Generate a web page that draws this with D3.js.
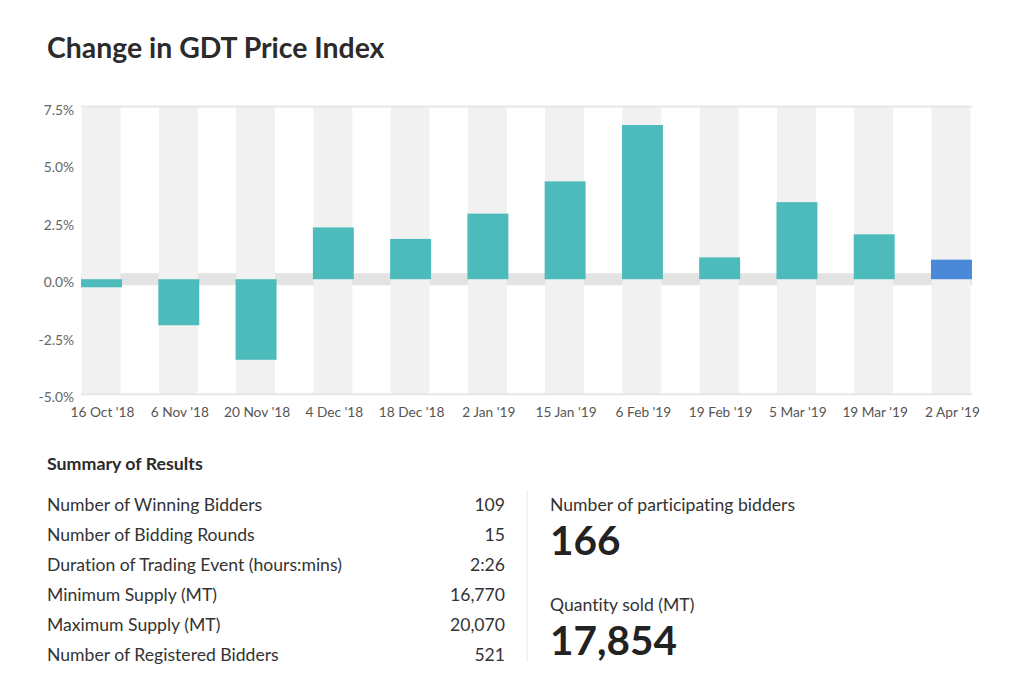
<!DOCTYPE html>
<html>
<head>
<meta charset="utf-8">
<script src="https://cdn.jsdelivr.net/npm/d3@7/dist/d3.min.js"></script>
<style>
  html, body { margin: 0; padding: 0; background: #fff; }
  svg { display: block; font-family: Lato, "Open Sans", sans-serif; font-variant-ligatures: none; font-feature-settings: "liga" 0, "dlig" 0; }
</style>
</head>
<body>
<svg id="chart" width="1024" height="676"></svg>
<script>
const categories = ["16 Oct '18", "6 Nov '18", "20 Nov '18", "4 Dec '18", "18 Dec '18", "2 Jan '19",
                    "15 Jan '19", "6 Feb '19", "19 Feb '19", "5 Mar '19", "19 Mar '19", "2 Apr '19"];
const changes = [-0.35, -2.0, -3.5, 2.25, 1.75, 2.85, 4.25, 6.7, 0.95, 3.35, 1.95, 0.85];
const yTicks = [7.5, 5.0, 2.5, 0.0, -2.5, -5.0];
const summaryLabels = ["Number of Winning Bidders", "Number of Bidding Rounds", "Duration of Trading Event (hours:mins)",
                       "Minimum Supply (MT)", "Maximum Supply (MT)", "Number of Registered Bidders"];
const summaryValues = ["109", "15", "2:26", "16,770", "20,070", "521"];
const highlights = [
  { label: "Number of participating bidders", value: "166" },
  { label: "Quantity sold (MT)", value: "17,854" }
];

const svg = d3.select("#chart");

// Title
svg.append("text").attr("x", 47).attr("y", 58)
  .attr("font-size", 28.4).attr("font-weight", 700).attr("fill", "#2b2b2b")
  .text("Change in GDT Price Index");

const x = d3.scaleBand().domain(categories).range([62.9, 990.1])
  .paddingInner(0.47).paddingOuter(0.235);
const y = d3.scaleLinear().domain([-5, 7.5]).range([394.3, 106.6]);

const plotL = x(categories[0]);
const plotR = x(categories[categories.length - 1]) + x.bandwidth();

const g = svg.append("g");

// zero band
g.append("rect").attr("x", plotL).attr("width", plotR - plotL)
  .attr("y", y(0) - 6).attr("height", 12).attr("fill", "#e3e3e3");

// column backgrounds
g.selectAll("rect.col").data(categories).join("rect").attr("class", "col")
  .attr("x", d => x(d) + 0.5).attr("width", x.bandwidth() - 2)
  .attr("y", y(7.5)).attr("height", y(-5) - y(7.5))
  .attr("fill", "#f1f1f1");

// top & bottom lines
[7.5, -5].forEach(v => {
  g.append("rect").attr("x", plotL).attr("width", plotR - plotL)
    .attr("y", y(v) - 1).attr("height", 2).attr("fill", "#e6e6e6");
});

// bars
g.selectAll("rect.bar").data(categories).join("rect").attr("class", "bar")
  .attr("x", d => x(d)).attr("width", x.bandwidth())
  .attr("y", (d, i) => y(Math.max(0, changes[i])))
  .attr("height", (d, i) => Math.abs(y(changes[i]) - y(0)))
  .attr("fill", (d, i) => i === categories.length - 1 ? "#4a88d8" : "#4dbbbb");

// y labels
g.selectAll("text.ytick").data(yTicks).join("text").attr("class", "ytick")
  .attr("x", 74).attr("y", d => y(d) + 8)
  .attr("text-anchor", "end").attr("font-size", 13.8).attr("fill", "#666")
  .text(d => d.toFixed(1) + "%");

// x labels
g.selectAll("text.xtick").data(categories).join("text").attr("class", "xtick")
  .attr("x", d => x(d) + x.bandwidth() / 2 + 1).attr("y", 417)
  .attr("text-anchor", "middle").attr("font-size", 13.7).attr("fill", "#555")
  .text(d => d);

// Summary
svg.append("text").attr("x", 47).attr("y", 470)
  .attr("font-size", 17.8).attr("font-weight", 700).attr("fill", "#2b2b2b")
  .text("Summary of Results");

const rows = svg.append("g");
summaryLabels.forEach((lab, i) => {
  const yy = 511 + i * 30;
  rows.append("text").attr("x", 47).attr("y", yy)
    .attr("font-size", 17.6).attr("fill", "#333").text(lab);
  rows.append("text").attr("x", 505).attr("y", yy).attr("text-anchor", "end")
    .attr("font-size", 17.6).attr("fill", "#333").text(summaryValues[i]);
});

// separator
svg.append("line").attr("x1", 527).attr("x2", 527).attr("y1", 490).attr("y2", 662)
  .attr("stroke", "#f0f0f0").attr("stroke-width", 1.5);

highlights.forEach((h, i) => {
  const base = 511 + i * 100;
  svg.append("text").attr("x", 550).attr("y", base)
    .attr("font-size", 17.6).attr("fill", "#333").text(h.label);
  svg.append("text").attr("x", 550).attr("y", base + 44)
    .attr("font-size", 40.5).attr("font-weight", 700).attr("fill", "#222").text(h.value);
});
</script>
</body>
</html>
